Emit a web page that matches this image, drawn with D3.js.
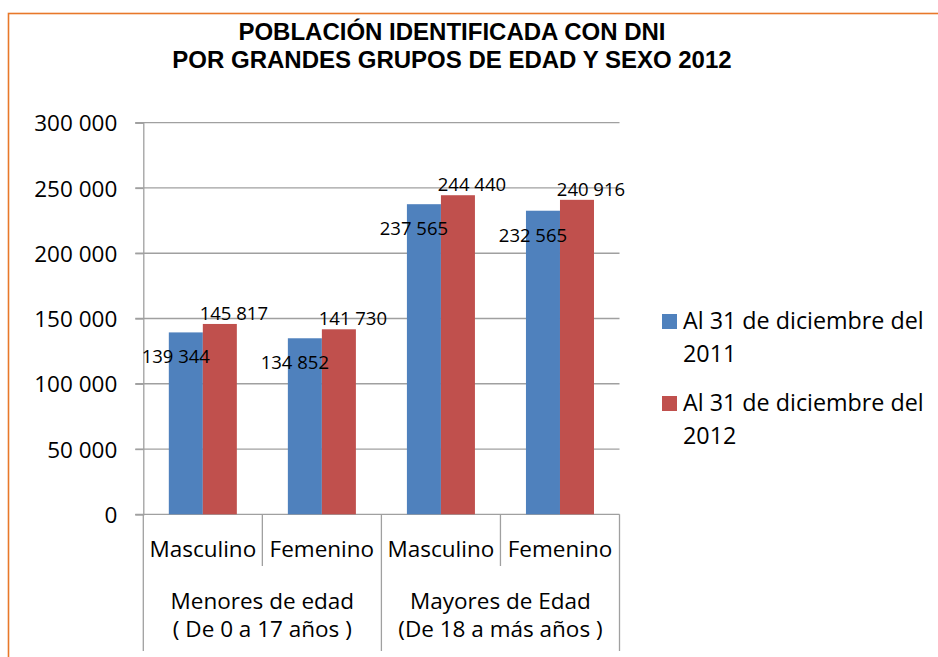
<!DOCTYPE html>
<html><head><meta charset="utf-8">
<script src="https://cdn.jsdelivr.net/npm/d3@7"></script>
<style>body{margin:0;background:#fff}svg{display:block}</style>
</head><body>
<script>
const titleLines = ["POBLACIÓN IDENTIFICADA CON DNI", "POR GRANDES GRUPOS DE EDAD Y SEXO 2012"];
const categories = ["Masculino", "Femenino", "Masculino", "Femenino"];
const groups = [["Menores de edad", "( De 0 a 17 años )"], ["Mayores de Edad", "(De 18 a más años )"]];
const seriesNames = [["Al 31 de diciembre del", "2011"], ["Al 31 de diciembre del", "2012"]];
const values2011 = [139344, 134852, 237565, 232565];
const values2012 = [145817, 141730, 244440, 240916];
const yTicks = [0, 50000, 100000, 150000, 200000, 250000, 300000];
const colors = ["#4F81BD", "#C0504D"];

(function () {
const W = 938, H = 657;
const svg = d3.select("body").append("svg").attr("width", W).attr("height", H);
const font = "'Open Sans', sans-serif";

svg.append("rect").attr("x", 8.5).attr("y", 13.5).attr("width", 2000).attr("height", 2000)
  .attr("fill", "none").attr("stroke", "#E8782A").attr("stroke-width", 1.6);

svg.selectAll("text.title").data(titleLines).join("text")
  .attr("x", 452).attr("y", (d, i) => 40 + i * 28)
  .attr("text-anchor", "middle").attr("font-family", "'Liberation Sans', Arial, sans-serif")
  .attr("font-weight", "bold").attr("font-size", 24).attr("fill", "#000").text(d => d);

const pLeft = 143.3, pRight = 619.5, pTop = 122.7, pBottom = 514.3;
const y = d3.scaleLinear().domain([0, 300000]).range([pBottom, pTop]);
const idx = d3.range(categories.length);
const x = d3.scaleBand().domain(idx).range([pLeft, pRight]).padding(0);
const xs = d3.scaleBand().domain([0, 1]).range([0, x.bandwidth()]).paddingInner(0).paddingOuter(0.75);
const grid = "#A0A0A0";

svg.append("g").selectAll("line").data(yTicks).join("line")
  .attr("x1", pLeft - 8).attr("x2", pRight).attr("y1", d => y(d)).attr("y2", d => y(d))
  .attr("stroke", grid).attr("stroke-width", 1.3);

const fmt = d => d3.format(",")(d).replace(/,/g, " ");
const yAxis = svg.append("g").attr("transform", `translate(${pLeft},0)`)
  .call(d3.axisLeft(y).tickValues(yTicks).tickFormat(fmt).tickSize(8).tickPadding(18));
yAxis.select(".domain").attr("stroke", grid).attr("stroke-width", 1.3);
yAxis.selectAll(".tick line").attr("stroke", grid).attr("stroke-width", 1.3);
yAxis.selectAll("text").attr("font-family", font).attr("font-size", 22.5).attr("fill", "#000").attr("dy", "0.36em");

const series = [values2011, values2012];
series.forEach((vals, s) => {
  svg.append("g").selectAll("rect").data(vals).join("rect")
    .attr("x", (d, i) => x(i) + xs(s)).attr("width", xs.bandwidth())
    .attr("y", d => y(d)).attr("height", d => y(0) - y(d)).attr("fill", colors[s]);
});

const lblFont = 18.5;
svg.append("g").selectAll("text").data(values2011).join("text")
  .attr("x", (d, i) => x(i) + xs(0) + xs.bandwidth() / 2 - 10)
  .attr("y", d => y(d) + 31).attr("text-anchor", "middle")
  .attr("font-family", font).attr("font-size", lblFont).attr("fill", "#000").text(fmt);
svg.append("g").selectAll("text").data(values2012).join("text")
  .attr("x", (d, i) => x(i) + xs(1) + xs.bandwidth() / 2 + 14)
  .attr("y", d => y(d) - 4).attr("text-anchor", "middle")
  .attr("font-family", font).attr("font-size", lblFont).attr("fill", "#000").text(fmt);

const bounds = d3.range(categories.length + 1).map(i => i < categories.length ? x(i) : pRight);
svg.append("g").selectAll("line").data(bounds).join("line")
  .attr("x1", d => d).attr("x2", d => d).attr("y1", pBottom)
  .attr("y2", (d, i) => i % 2 === 0 ? 651 : 566)
  .attr("stroke", grid).attr("stroke-width", 1.3);

svg.append("g").selectAll("text").data(categories).join("text")
  .attr("x", (d, i) => x(i) + x.bandwidth() / 2).attr("y", 557)
  .attr("text-anchor", "middle").attr("font-family", font).attr("font-size", 22.5)
  .attr("fill", "#000").text(d => d);

groups.forEach((g, gi) => {
  const cx = (x(gi * 2) + (gi * 2 + 2 < categories.length ? x(gi * 2 + 2) : pRight)) / 2;
  svg.append("g").selectAll("text").data(g).join("text")
    .attr("x", cx).attr("y", (d, i) => 609 + i * 28)
    .attr("text-anchor", "middle").attr("font-family", font).attr("font-size", 22.5)
    .attr("fill", "#000").text(d => d);
});

seriesNames.forEach((lines, s) => {
  const gy = 314 + s * 82;
  svg.append("rect").attr("x", 662).attr("y", gy).attr("width", 15).attr("height", 15).attr("fill", colors[s]);
  svg.append("g").selectAll("text").data(lines).join("text")
    .attr("x", 683).attr("y", (d, i) => gy + 15 + i * 33)
    .attr("font-family", font).attr("font-size", 23.3).attr("fill", "#000").text(d => d);
});
})();
</script>
</body></html>
